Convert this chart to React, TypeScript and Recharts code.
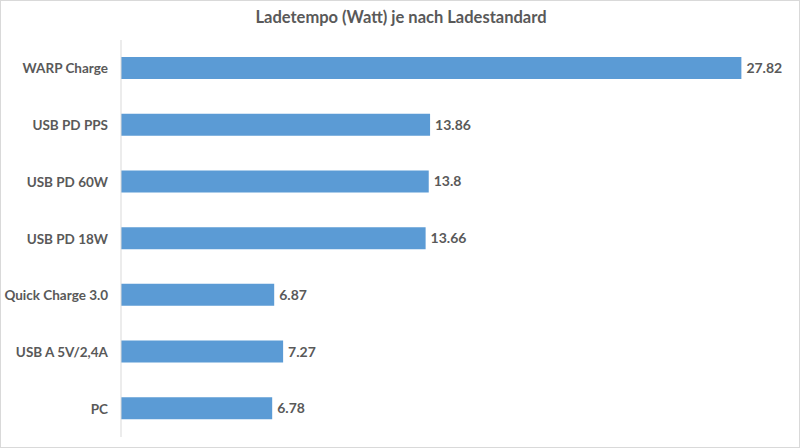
import { Bar, BarChart, LabelList, XAxis, YAxis } from "recharts";

const categories = [
  "WARP Charge",
  "USB PD PPS",
  "USB PD 60W",
  "USB PD 18W",
  "Quick Charge 3.0",
  "USB A 5V/2,4A",
  "PC",
];
const watts = [27.82, 13.86, 13.8, 13.66, 6.87, 7.27, 6.78];

const data = categories.map((name, i) => ({ name, watt: watts[i] }));

const FONT = "Lato, 'Open Sans', sans-serif";
const TEXT = "#595959";

function CategoryTick({ x, y, payload }: { x?: number; y?: number; payload?: { value: string } }) {
  return (
    <text
      x={x}
      y={y}
      dy={5}
      textAnchor="end"
      fill={TEXT}
      fontSize={13.5}
      fontWeight={700}
      fontFamily={FONT}
    >
      {payload?.value}
    </text>
  );
}

export default function App() {
  return (
    <div
      style={{
        position: "absolute",
        left: 0,
        top: 0,
        width: 800,
        height: 448,
        background: "#fff",
        boxSizing: "border-box",
        border: "1px solid #d9d9d9",
        fontFamily: FONT,
      }}
    >
      <div
        style={{
          position: "absolute",
          top: 6,
          left: 0,
          width: 800,
          textAlign: "center",
          fontSize: 16.5,
          fontWeight: 700,
          color: TEXT,
        }}
      >
        Ladetempo (Watt) je nach Ladestandard
      </div>
      <div style={{ position: "absolute", left: -1, top: -1 }}>
        <BarChart
          width={800}
          height={448}
          data={data}
          layout="vertical"
          margin={{ top: 40, right: 10, bottom: 11, left: 8 }}
        >
          <XAxis type="number" domain={[0, 30]} hide />
          <YAxis
            type="category"
            dataKey="name"
            width={113}
            axisLine={{ stroke: "#d9d9d9" }}
            tickLine={false}
            tickMargin={7}
            tick={<CategoryTick />}
          />
          <Bar dataKey="watt" fill="#5B9BD5" barSize={22} isAnimationActive={false}>
            <LabelList
              dataKey="watt"
              position="right"
              offset={5}
              style={{ fill: TEXT, fontSize: 14, fontWeight: 700, fontFamily: FONT }}
            />
          </Bar>
        </BarChart>
      </div>
    </div>
  );
}
